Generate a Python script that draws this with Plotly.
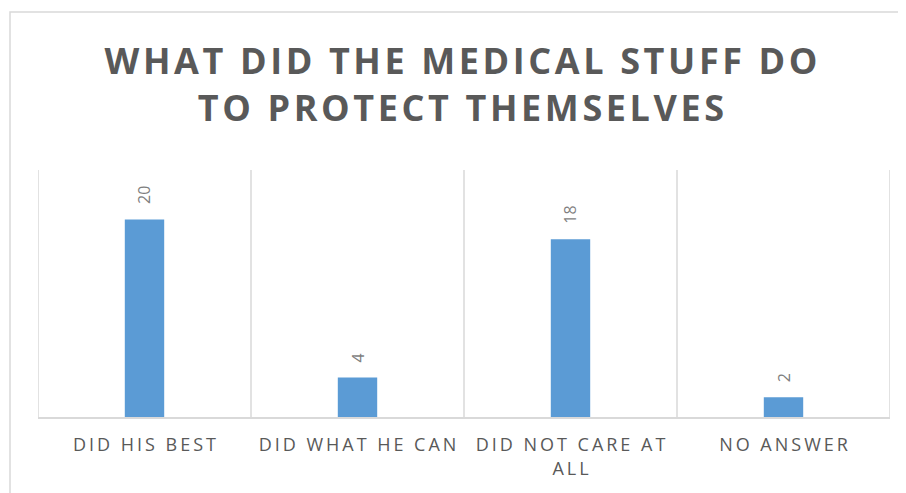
import plotly.graph_objects as go

categories = ["DID HIS BEST", "DID WHAT HE CAN", "DID NOT CARE AT ALL", "NO ANSWER"]
tick_labels = ["DID HIS BEST", "DID WHAT HE CAN", "DID NOT CARE AT<br>ALL", "NO ANSWER"]
values = [20, 4, 18, 2]
title_text = "WHAT DID THE MEDICAL STUFF DO<br>TO PROTECT THEMSELVES"

def spaced(s, sp):
    return "<br>".join(sp.join(list(p)) for p in s.split("<br>"))

x = list(range(len(categories)))
L, R, T, B = 30, 24, 162, 84
W, H = 906, 493
pw, ph = W - L - R, H - T - B

fig = go.Figure()
fig.add_trace(go.Bar(
    x=x, y=values,
    width=0.185,
    marker=dict(color="#5B9BD5", line=dict(width=0)),
    hoverinfo="skip",
))

for xi, v in zip(x, values):
    fig.add_annotation(x=xi, y=v, text=str(v), textangle=-90, showarrow=False,
                       xanchor="center", yanchor="bottom", yshift=13,
                       font=dict(family="Open Sans", size=16, color="#7f7f7f"))

grid_color = "#d9d9d9"
for b in [x[0] - 0.5 + i for i in range(len(x) + 1)]:
    fig.add_shape(type="line", xref="x", yref="paper", x0=b, x1=b, y0=0, y1=1,
                  line=dict(color=grid_color, width=1.5), layer="below")

fig.add_shape(type="rect", xref="paper", yref="paper",
              x0=(2 - L) / pw, x1=1.1, y0=-0.6, y1=1 + (T - 4) / ph,
              line=dict(color="#d9d9d9", width=1.5), layer="below")

fig.update_layout(
    width=W, height=H,
    margin=dict(l=L, r=R, t=T, b=B),
    paper_bgcolor="white", plot_bgcolor="white",
    showlegend=False,
    title=dict(text=spaced(title_text, "\u200a"), x=0.5, xanchor="center",
               y=1 - 66 / H, yanchor="middle",
               font=dict(family="Open Sans", size=36, color="#595959", weight="bold")),
    xaxis=dict(tickvals=x, ticktext=[spaced(t, "\u2009") for t in tick_labels],
               range=[-0.5, 3.5], showgrid=False, zeroline=False,
               showline=True, linecolor=grid_color, linewidth=1.5,
               ticks="", ticklabelstandoff=11,
               tickfont=dict(family="Open Sans", size=18, color="#595959")),
    yaxis=dict(range=[0, 25], showticklabels=False, showgrid=False, zeroline=False),
)

fig.write_html("out.html")
